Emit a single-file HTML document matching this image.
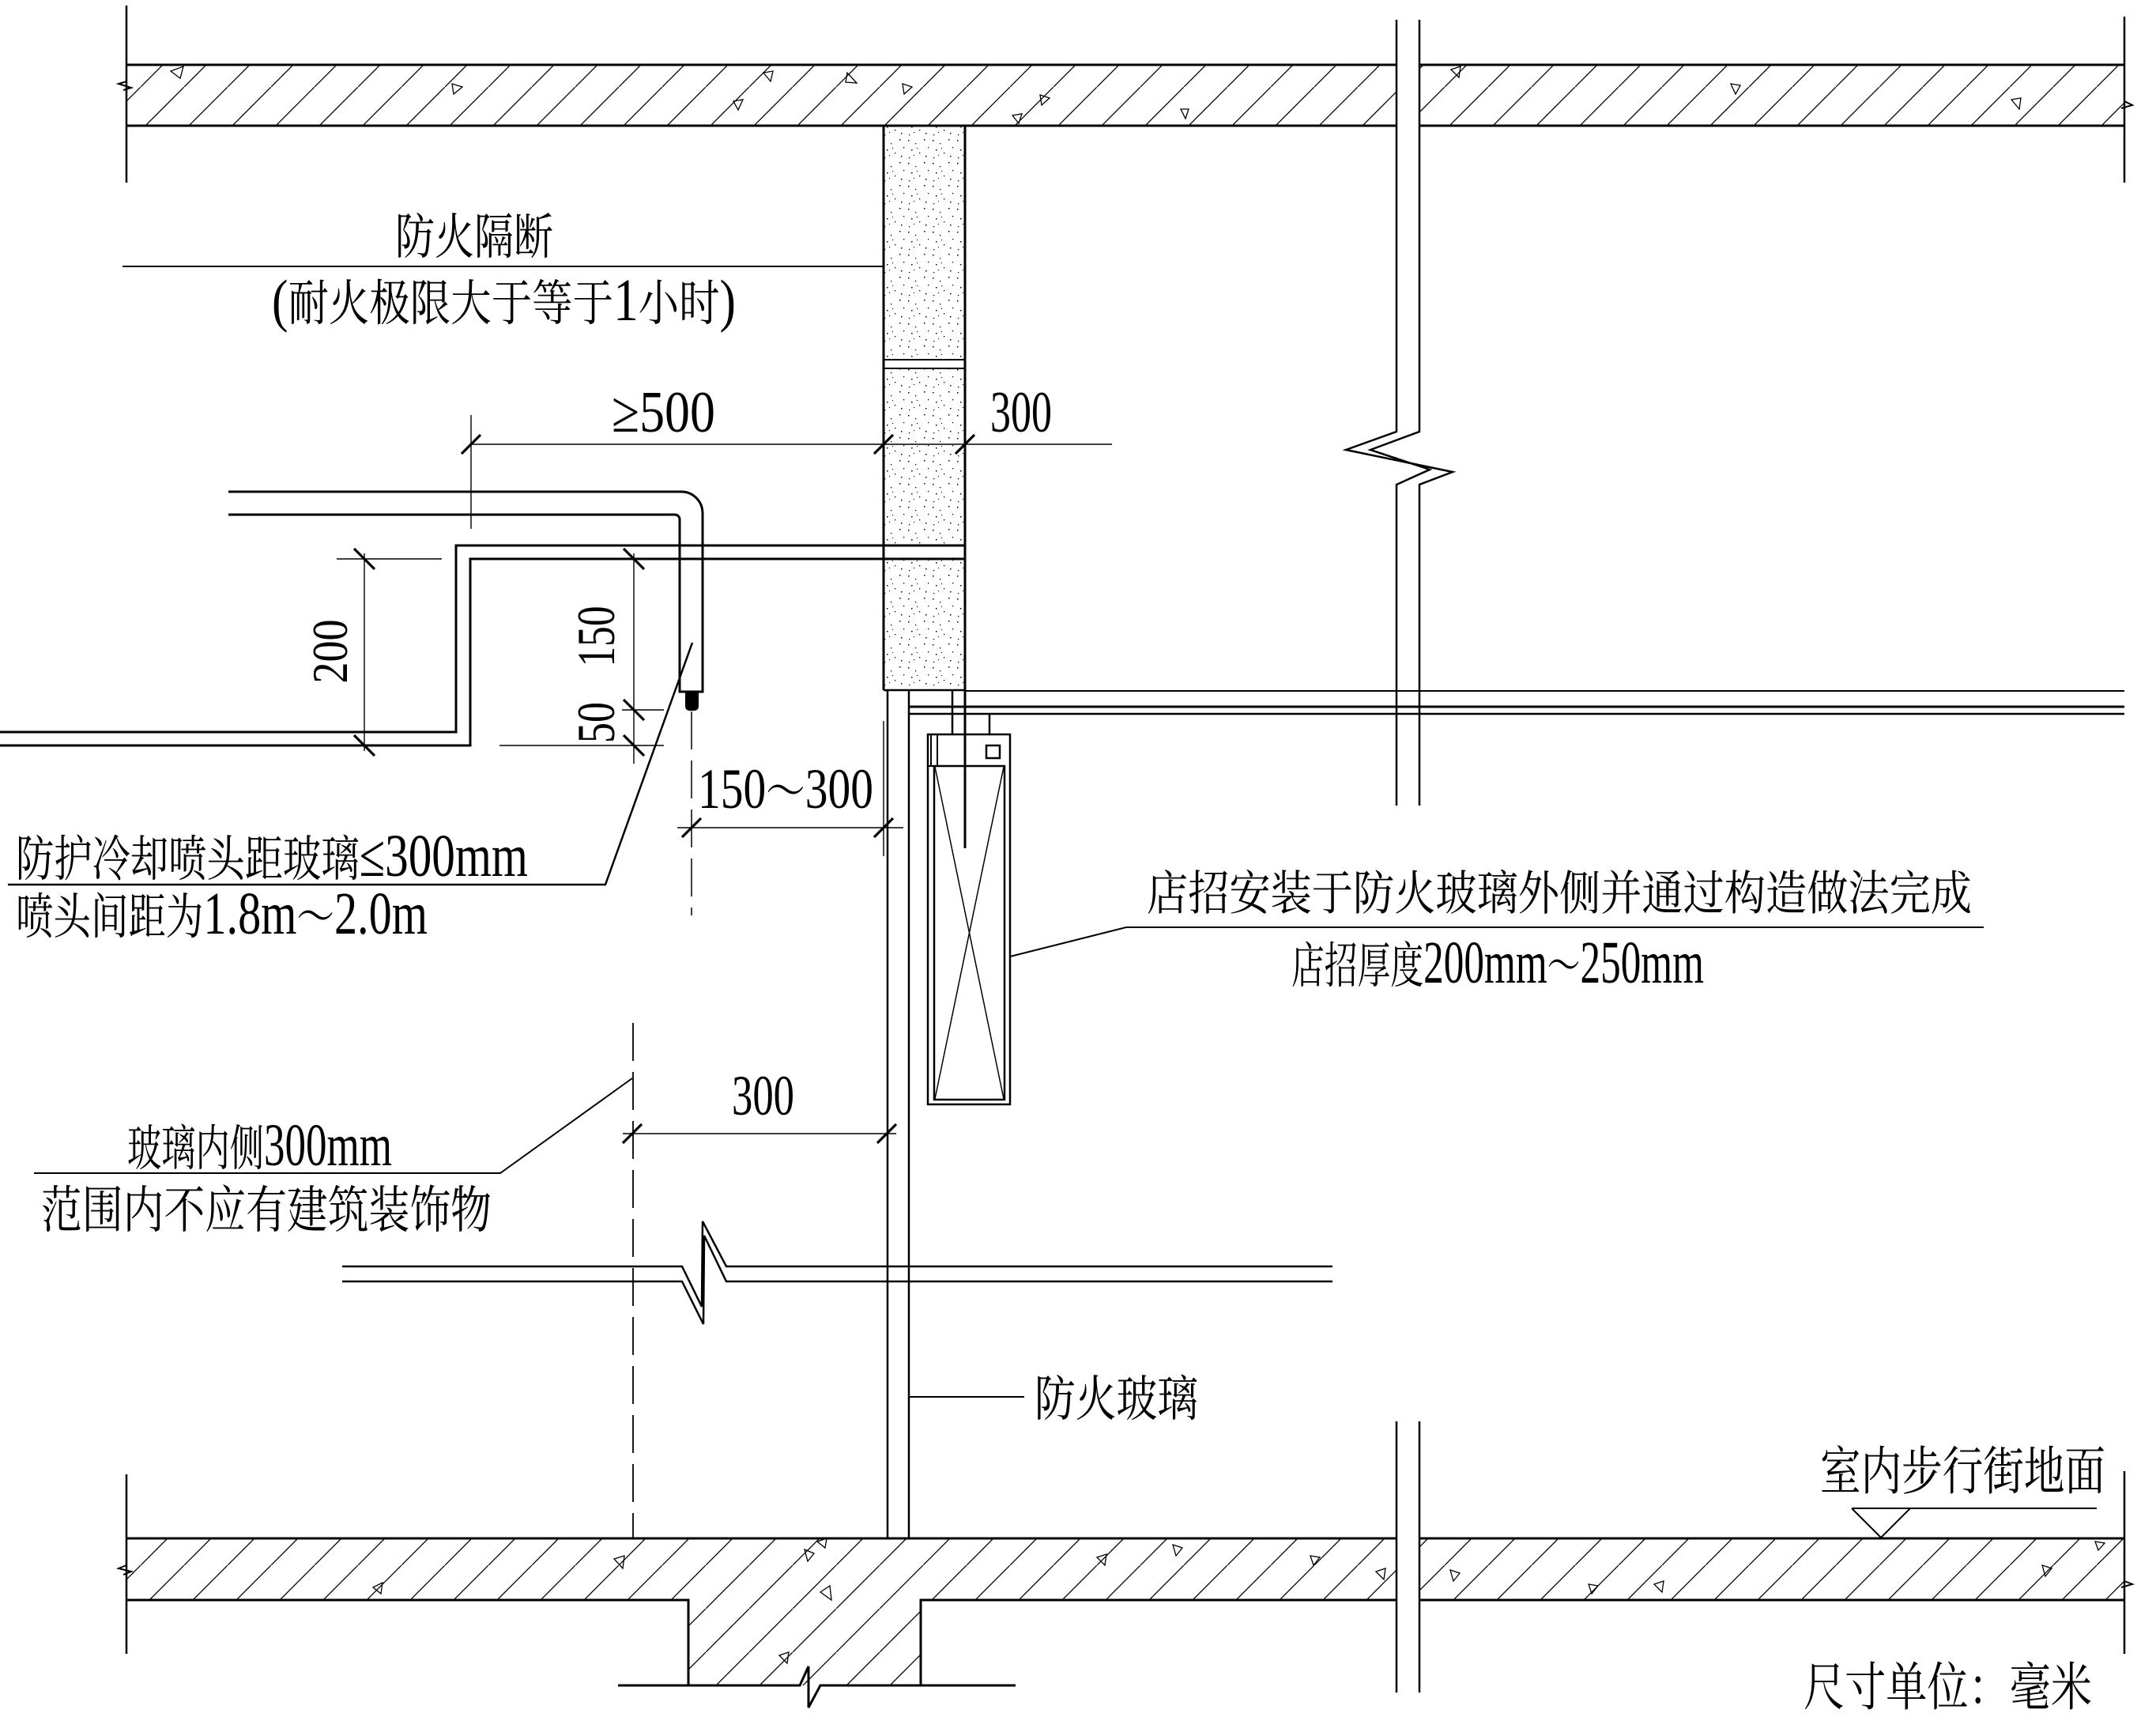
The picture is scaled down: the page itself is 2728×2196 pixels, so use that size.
<!DOCTYPE html>
<html><head><meta charset="utf-8">
<style>
html,body{margin:0;padding:0;background:#fff;}
svg{display:block;}
text{font-family:"Liberation Serif","Noto Serif CJK SC",serif;fill:#000;}
</style></head><body>
<svg width="2728" height="2196" viewBox="0 0 2728 2196" xmlns="http://www.w3.org/2000/svg">
<defs>
<pattern id="h" patternUnits="userSpaceOnUse" x="13" y="0" width="55" height="55">
<line x1="-5" y1="60" x2="60" y2="-5" stroke="#000" stroke-width="1.3"/>
</pattern>
<pattern id="sp" patternUnits="userSpaceOnUse" width="31" height="29">
<g fill="#000">
<rect x="2" y="3" width="1.5" height="1.5"/><rect x="11" y="7" width="1.3" height="1.3"/>
<rect x="22" y="2" width="1.5" height="1.5"/><rect x="27" y="12" width="1.3" height="1.3"/>
<rect x="6" y="15" width="1.5" height="1.5"/><rect x="16" y="19" width="1.3" height="1.3"/>
<rect x="24" y="23" width="1.5" height="1.5"/><rect x="3" y="25" width="1.3" height="1.3"/>
<rect x="13" y="13" width="1.1" height="1.1"/><rect x="9" y="22" width="1.1" height="1.1"/>
</g>
</pattern>
</defs>

<g fill="none" stroke="#000" stroke-linecap="butt">
<!-- top slab -->
<rect x="160" y="82" width="1607" height="77" fill="url(#h)" stroke="none"/>
<rect x="1796" y="82" width="892" height="77" fill="url(#h)" stroke="none"/>
<path d="M160 82 H1767 M1796 82 H2688 M160 159 H1767 M1796 159 H2688" stroke-width="3"/>
<path d="M160 7 V231 M2688 21 V231" stroke-width="2.5"/>
<path d="M160 103 L150 106 L166 111 L156 114" stroke-width="2"/>
<path d="M2688 128 L2698 133 L2684 137" stroke-width="2"/>

<!-- floor slab -->
<path d="M160 1946 H1767 V2024 H1165 V2132 H871 V2024 H160 Z" fill="url(#h)" stroke="none"/>
<rect x="1796" y="1946" width="892" height="78" fill="url(#h)" stroke="none"/>
<path d="M160 1946 H1767 M1796 1946 H2688 M160 2024 H871 V2132 M1165 2132 V2024 H1767 M1796 2024 H2688" stroke-width="3"/>
<path d="M782 2132 H1012 L1023 2108 L1023 2160 L1038 2132 H1285" stroke-width="3"/>
<path d="M160 1865 V2092 M2688 1861 V2092" stroke-width="2.5"/>
<path d="M160 1980 L150 1984 L166 1988 L156 1992" stroke-width="2"/>
<path d="M2688 2000 L2698 2004 L2684 2008" stroke-width="2"/>

<!-- aggregate triangles -->
<g stroke-width="1.3">
<path d="M216 90 L232 84 L228 99 Z"/><path d="M572 106 L585 110 L574 119 Z"/>
<path d="M966 92 L978 90 L975 103 Z"/><path d="M1072 92 L1084 105 L1070 104 Z"/>
<path d="M928 128 L940 126 L934 139 Z"/><path d="M1142 106 L1154 110 L1144 119 Z"/>
<path d="M1316 120 L1328 124 L1318 133 Z"/><path d="M1281 146 L1293 144 L1289 156 Z"/>
<path d="M1494 138 L1504 138 L1500 150 Z"/><path d="M1836 88 L1848 84 L1846 98 Z"/>
<path d="M2190 106 L2202 108 L2196 119 Z"/><path d="M2545 126 L2557 124 L2555 138 Z"/>
<path d="M777 1972 L790 1968 L788 1984 Z"/><path d="M472 2008 L484 2002 L482 2016 Z"/>
<path d="M1034 1950 L1046 1946 L1044 1958 Z"/><path d="M1038 2014 L1050 2006 L1052 2024 Z"/>
<path d="M986 2094 L998 2090 L996 2104 Z"/><path d="M1018 1960 L1030 1965 L1022 1975 Z"/>
<path d="M1388 1970 L1400 1966 L1398 1980 Z"/><path d="M1484 1954 L1496 1958 L1488 1968 Z"/>
<path d="M1658 1968 L1670 1970 L1662 1980 Z"/><path d="M1741 1988 L1753 1984 L1751 1998 Z"/>
<path d="M1835 1986 L1847 1990 L1839 2000 Z"/><path d="M2010 2004 L2022 2006 L2014 2016 Z"/>
<path d="M2093 2004 L2105 2000 L2103 2014 Z"/><path d="M2584 1980 L2596 1984 L2588 1994 Z"/>
<path d="M2651 1950 L2663 1952 L2655 1961 Z"/>
</g>

<!-- column break lines -->
<path d="M1767 25 V546 L1703 569 L1838 597 L1796 613 V1019" stroke-width="2.5"/>
<path d="M1796 25 V546 L1734 569 L1809 594 L1767 613 V1019" stroke-width="2.5"/>
<path d="M1767 1798 V2141 M1796 1798 V2141" stroke-width="2.5"/>

<!-- fire partition wall -->
<rect x="1118" y="159" width="104" height="296" fill="url(#sp)" stroke="none"/>
<rect x="1118" y="466" width="104" height="224" fill="url(#sp)" stroke="none"/>
<rect x="1118" y="707" width="104" height="166" fill="url(#sp)" stroke="none"/>
<path d="M1118 159 V873 M1221 159 V1073" stroke-width="3"/>
<path d="M1118 455 H1222 M1118 466 H1222" stroke-width="2"/>
<path d="M1118 873 H1222" stroke-width="2.5"/>

<!-- glass -->
<path d="M1123 873 V1946 M1150 873 V1946" stroke-width="2.5"/>
<!-- right horizontal lines -->
<path d="M1222 874 H2688" stroke-width="2"/>
<path d="M1150 894 H2688" stroke-width="3"/>
<path d="M1150 903 H2688" stroke-width="2.5"/>

<!-- sign -->
<path d="M1205 874 V929 M1252 903 V929" stroke-width="2.5"/>
<rect x="1174" y="929" width="104" height="468" stroke-width="2.5"/>
<rect x="1182" y="969" width="89" height="422" stroke-width="2.5"/>
<path d="M1174 969 H1182 M1178 929 V969 M1186 929 V969" stroke-width="2"/>
<rect x="1248" y="943" width="17" height="16" stroke-width="2.5"/>
<path d="M1183 970 L1270 1390 M1270 970 L1183 1390" stroke-width="1.5"/>
<path d="M1278 1210 L1425 1173 H2510" stroke-width="2"/>

<!-- ceiling lines -->
<path d="M0 926 H577 V690 H1222" stroke-width="3"/>
<path d="M0 943 H595 V707 H1222" stroke-width="3"/>

<!-- sprinkler pipe -->
<path d="M289 622 H862 A27 27 0 0 1 889 649 V875 H860 V657 A6 6 0 0 0 854 651 H289" stroke-width="3"/>
<path d="M867 876 H884 V893 Q884 899 878 899 H873 Q867 899 867 893 Z" fill="#000" stroke="none"/>
<path d="M875 900 V1158" stroke-width="1.5" stroke-dasharray="48 14"/>
<path d="M801 1294 V1946" stroke-width="1.8" stroke-dasharray="48 14"/>

<!-- beam break lines -->
<path d="M433 1602 H863 L888 1653 L889 1545 L919 1602 H1686" stroke-width="2.5"/>
<path d="M433 1621 H863 L890 1675 L891 1563 L919 1621 H1686" stroke-width="2.5"/>

<!-- leaders -->
<path d="M155 337 H1118" stroke-width="2"/>
<path d="M876 813 L766 1119 H10" stroke-width="2.5"/>
<path d="M800 1364 L633 1484 H43" stroke-width="2"/>
<path d="M1150 1767 H1296" stroke-width="2"/>
<path d="M2343 1908 H2653" stroke-width="2"/>
<path d="M2343 1908 L2380 1945 L2417 1908" stroke-width="2"/>

<!-- dimensions -->
<g stroke-width="1.4">
<path d="M594 562 H1407 M596 525 V669"/>
<path d="M461 700 V950 M426 707 H559"/>
<path d="M802 700 V966 M787 898 H840 M632 943 H840"/>
<path d="M857 1047 H1143 M1118 912 V1083"/>
<path d="M788 1434 H1134"/>
</g>
<g stroke-width="3.2">
<path d="M584 574 L608 550 M1106 574 L1130 550 M1209 574 L1233 550"/>
<path d="M448 694 L474 720 M448 930 L474 956"/>
<path d="M789 694 L815 720 M789 885 L815 911 M789 930 L815 956"/>
<path d="M863 1059 L887 1035 M1106 1059 L1130 1035"/>
<path d="M788 1446 L812 1422 M1110 1446 L1134 1422"/>
</g>
</g>

<!-- texts -->
<text x="500" y="321" font-size="62" textLength="200" lengthAdjust="spacingAndGlyphs">防火隔断</text>
<text x="344" y="405" font-size="62" textLength="587" lengthAdjust="spacingAndGlyphs"><tspan font-size="74">(</tspan>耐火极限大于等于<tspan font-size="76">1</tspan>小时<tspan font-size="74">)</tspan></text>
<text x="774" y="546" font-size="74" textLength="131" lengthAdjust="spacingAndGlyphs">≥500</text>
<text x="1253" y="546" font-size="74" textLength="78" lengthAdjust="spacingAndGlyphs">300</text>
<text transform="translate(439,824) rotate(-90)" text-anchor="middle" font-size="64" textLength="81" lengthAdjust="spacingAndGlyphs">200</text>
<text transform="translate(777,805) rotate(-90)" text-anchor="middle" font-size="68" textLength="77" lengthAdjust="spacingAndGlyphs">150</text>
<text transform="translate(777,914) rotate(-90)" text-anchor="middle" font-size="68" textLength="52" lengthAdjust="spacingAndGlyphs">50</text>
<text x="883" y="1022" font-size="72" textLength="222" lengthAdjust="spacingAndGlyphs">150<tspan font-size="62">～</tspan>300</text>
<text x="20" y="1108" font-size="62" textLength="648" lengthAdjust="spacingAndGlyphs">防护冷却喷头距玻璃<tspan font-size="76">≤300mm</tspan></text>
<text x="20" y="1181" font-size="62" textLength="521" lengthAdjust="spacingAndGlyphs">喷头间距为<tspan font-size="76">1.8m</tspan>～<tspan font-size="76">2.0m</tspan></text>
<text x="1451" y="1151" font-size="60" textLength="1044" lengthAdjust="spacingAndGlyphs">店招安装于防火玻璃外侧并通过构造做法完成</text>
<text x="1634" y="1243" font-size="62" textLength="522" lengthAdjust="spacingAndGlyphs">店招厚度<tspan font-size="76">200mm</tspan>～<tspan font-size="76">250mm</tspan></text>
<text x="926" y="1410" font-size="72" textLength="79" lengthAdjust="spacingAndGlyphs">300</text>
<text x="161" y="1474" font-size="62" textLength="335" lengthAdjust="spacingAndGlyphs">玻璃内侧<tspan font-size="76">300mm</tspan></text>
<text x="52" y="1553" font-size="64" textLength="570" lengthAdjust="spacingAndGlyphs">范围内不应有建筑装饰物</text>
<text x="1309" y="1791" font-size="62" textLength="207" lengthAdjust="spacingAndGlyphs">防火玻璃</text>
<text x="2303" y="1884" font-size="66" textLength="361" lengthAdjust="spacingAndGlyphs">室内步行街地面</text>
<text x="2282" y="2157" font-size="66" textLength="365" lengthAdjust="spacingAndGlyphs">尺寸单位：毫米</text>
</svg>
</body></html>
